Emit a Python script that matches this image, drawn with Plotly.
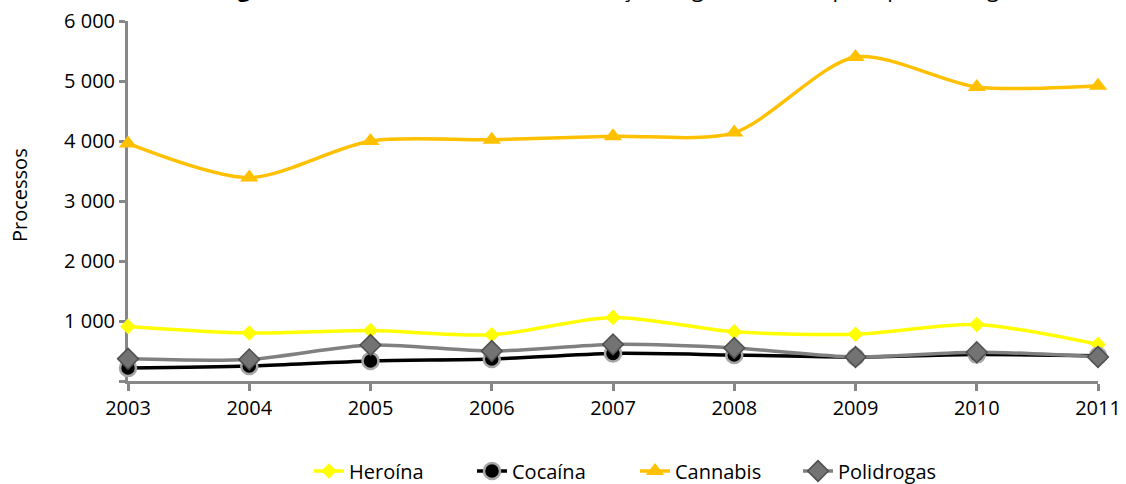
import plotly.graph_objects as go

years = [2003, 2004, 2005, 2006, 2007, 2008, 2009, 2010, 2011]
heroina = [910, 800, 840, 770, 1060, 820, 780, 940, 610]
cocaina = [215, 250, 335, 367, 460, 433, 400, 440, 420]
cannabis = [3960, 3390, 4000, 4020, 4080, 4140, 5400, 4900, 4920]
polidrogas = [370, 360, 600, 500, 610, 550, 400, 480, 400]

ytickvals = [0, 1000, 2000, 3000, 4000, 5000, 6000]
yticktext = ["", "1 000", "2 000", "3 000", "4 000", "5 000", "6 000"]

title_text = "<b>Figura 12 –</b> Processos de contraordenação, segundo o ano, por tipo de droga"

FONT = "Open Sans"
AXIS = "#878787"
FS = 20

fig = go.Figure()
fig.add_trace(go.Scatter(
    x=years, y=heroina, name="Heroína", mode="lines+markers",
    line=dict(color="#FFFF00", width=3.5, shape="spline", smoothing=0.8),
    marker=dict(symbol="diamond", size=12, color="#FFFF00"),
    cliponaxis=False))
fig.add_trace(go.Scatter(
    x=years, y=cocaina, name="Cocaína", mode="lines+markers",
    line=dict(color="#000000", width=3.5, shape="spline", smoothing=0.8),
    marker=dict(symbol="circle", size=16, color="#000000",
                line=dict(color="#A6A6A6", width=2.5)),
    cliponaxis=False))
fig.add_trace(go.Scatter(
    x=years, y=cannabis, name="Cannabis", mode="lines+markers",
    line=dict(color="#FFC000", width=3.5, shape="spline", smoothing=0.8),
    marker=dict(symbol="triangle-up", size=16, color="#FFC000"),
    cliponaxis=False))
fig.add_trace(go.Scatter(
    x=years, y=polidrogas, name="Polidrogas", mode="lines+markers",
    line=dict(color="#808080", width=3.5, shape="spline", smoothing=0.8),
    marker=dict(symbol="diamond", size=16, color="#737373",
                line=dict(color="#4F4F4F", width=1.5)),
    cliponaxis=False))

fig.update_layout(
    width=1126, height=484,
    margin=dict(l=128, r=28, t=21, b=103, autoexpand=False),
    paper_bgcolor="white", plot_bgcolor="white",
    font=dict(family=FONT, size=FS, color="#000000"),
    showlegend=True,
    legend=dict(orientation="h", x=0.1866, xanchor="left", y=-0.25, yanchor="middle",
                font=dict(family=FONT, size=FS, color="#000000"),
                entrywidth=118, entrywidthmode="pixels", tracegroupgap=0),
    xaxis=dict(range=[2003, 2011], tickvals=years, ticktext=[str(y) for y in years],
               showgrid=False, zeroline=False, showline=True, linecolor=AXIS, linewidth=3,
               ticks="outside", ticklen=7, tickwidth=3, tickcolor=AXIS, automargin=False,
               tickfont=dict(family=FONT, size=FS, color="#000000"), layer="below traces"),
    yaxis=dict(range=[0, 6000], tickvals=ytickvals, ticktext=yticktext,
               showgrid=False, zeroline=False, showline=True, linecolor=AXIS, linewidth=3,
               ticks="outside", ticklen=6, tickwidth=3, tickcolor=AXIS, automargin=False,
               tickfont=dict(family=FONT, size=FS, color="#000000"), layer="below traces"),
    annotations=[
        dict(text=title_text, xref="paper", yref="paper", x=(615 - 128) / 970, y=1.092,
             xanchor="center", yanchor="middle", showarrow=False,
             font=dict(family=FONT, size=22, color="#000000")),
        dict(text="Processos", xref="paper", yref="paper", x=(20 - 128) / 970,
             y=(381 - 195) / 360, xanchor="center", yanchor="middle", textangle=-90,
             showarrow=False, font=dict(family=FONT, size=FS, color="#000000")),
    ],
)

fig.write_html("out.html", config={"displayModeBar": False},
               post_script="document.body.style.margin='0px';")
